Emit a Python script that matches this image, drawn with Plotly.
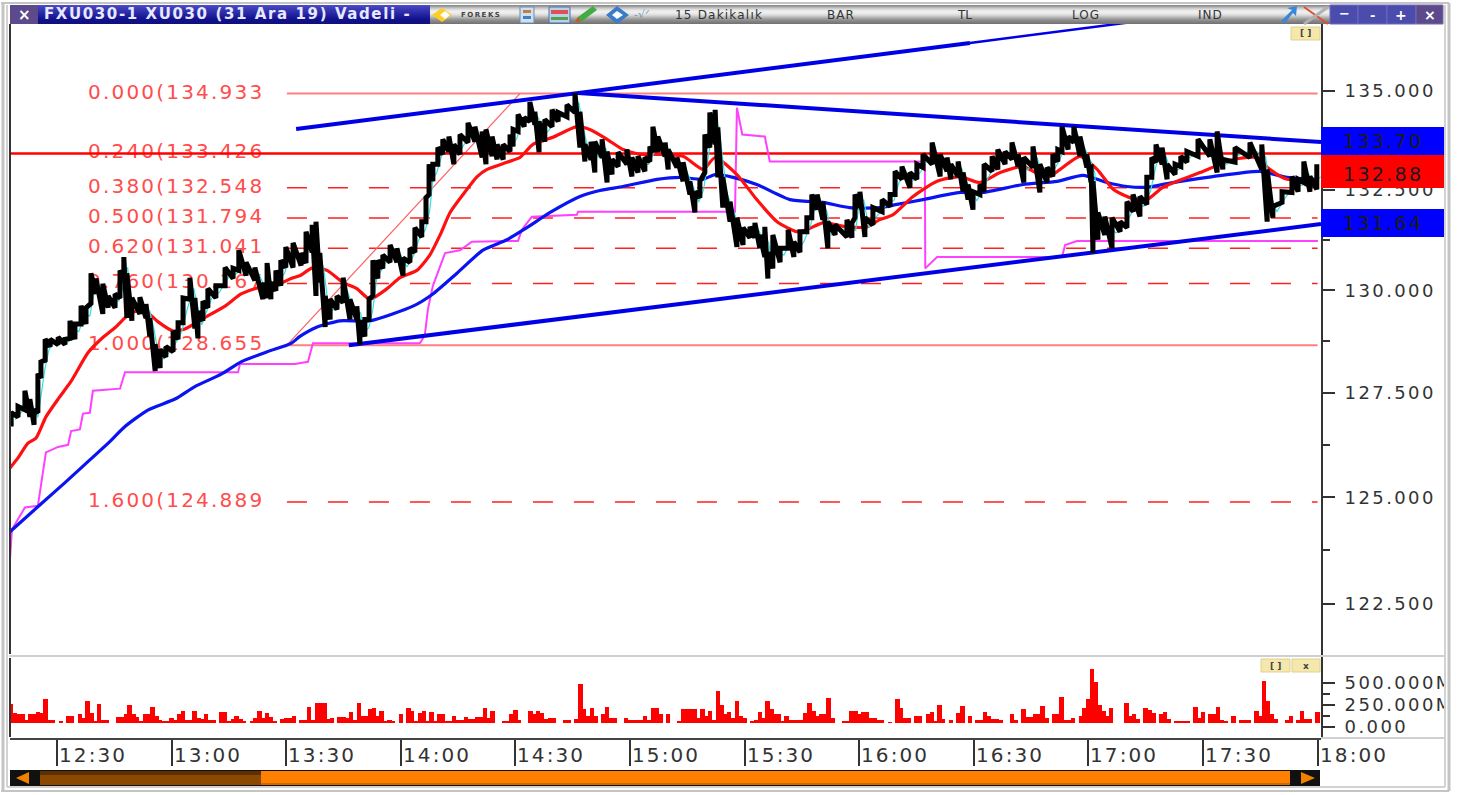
import plotly.graph_objects as go

W, H = 1466, 795

# ---- price bars: minute of day, high, low ----
bar_time = [738.0,739.8,741.6,742.9,744.0,745.0,745.8,746.9,748.2,750.3,752.1,753.4,754.7,756.3,757.6,758.9,760.2,762.0,763.4,765.2,766.5,767.5,768.3,769.6,771.7,773.3,774.3,775.7,777.0,778.5,780.4,781.7,783.0,784.8,786.1,786.9,788.2,789.5,791.6,794.0,796.1,797.6,799.5,801.8,803.9,805.0,806.0,807.3,808.6,809.9,811.8,813.9,815.2,816.8,817.8,818.8,820.2,821.5,823.3,824.9,826.7,828.5,829.3,830.6,831.7,832.7,834.0,835.3,837.2,839.0,840.6,842.4,843.7,845.5,846.6,847.4,848.4,849.7,851.0,852.6,853.9,855.5,857.6,859.4,861.3,862.3,863.9,865.2,866.8,868.6,869.4,870.7,872.3,873.8,875.1,876.2,877.7,879.6,881.2,883.5,885.6,886.9,888.2,889.8,890.8,892.7,894.0,895.3,896.9,899.2,900.5,902.1,903.9,905.2,906.0,907.3,909.2,910.0,912.3,913.9,915.7,917.0,918.3,919.6,920.9,922.3,923.0,924.3,926.2,928.0,929.6,931.4,932.7,934.0,935.3,936.1,937.4,939.3,941.4,942.9,944.5,946.3,947.6,949.0,950.5,951.8,953.7,956.8,958.1,958.9,960.2,961.5,963.6,966.0,968.1,969.4,971.2,973.3,975.1,976.7,979.1,981.2,983.0,984.0,985.9,987.2,988.5,989.8,991.6,992.7,994.8,996.3,998.2,1000.0,1001.6,1003.1,1005.5,1007.3,1009.2,1010.7,1012.0,1013.1,1014.7,1016.2,1017.8,1019.6,1020.7,1021.2,1022.5,1024.3,1026.2,1028.3,1030.1,1031.7,1033.5,1035.3,1036.6,1037.7,1039.3,1040.6,1042.7,1044.2,1045.8,1048.7,1051.8,1053.7,1055.2,1058.4,1062.3,1065.4,1066.8,1068.3,1070.7,1073.3,1074.9,1076.4,1078.0,1079.8]
bar_high = [127.02,127.17,127.55,127.35,127.09,127.96,128.25,128.8,128.8,128.85,128.8,129.25,129.17,129.62,129.57,130.42,130.29,130.16,129.86,129.91,130.49,130.82,130.42,129.81,129.83,129.66,129.32,128.68,128.55,128.62,129.0,129.2,129.81,130.31,129.81,129.48,129.73,130.04,130.11,130.56,130.54,130.99,130.69,130.56,130.19,130.67,130.19,130.49,130.74,131.07,131.17,130.92,131.45,131.62,131.7,130.92,129.86,129.78,129.86,130.31,129.78,129.61,129.25,129.28,129.78,130.74,130.74,130.87,131.12,131.04,130.79,131.04,131.55,131.7,132.3,133.14,133.14,133.56,133.77,133.84,133.64,133.89,134.19,134.09,133.97,134.02,133.84,133.64,133.64,133.89,134.02,134.4,134.32,134.72,134.47,134.22,134.27,134.52,134.45,134.65,134.95,134.47,133.64,133.71,133.71,133.77,133.46,133.26,133.44,133.51,133.31,133.34,133.31,133.59,134.09,133.84,133.69,133.51,133.31,133.19,132.71,132.45,132.71,133.89,134.45,134.52,134.07,132.81,132.2,131.8,131.55,131.57,131.67,131.37,131.57,130.94,131.37,131.04,131.5,131.2,131.45,131.8,132.38,132.38,132.2,131.7,131.62,131.75,131.67,132.38,132.45,131.8,132.05,132.25,132.38,132.96,133.08,132.93,133.14,133.39,133.69,133.39,133.31,133.14,133.21,132.93,132.63,132.45,132.63,133.14,133.34,133.51,133.46,133.69,133.39,133.31,133.59,133.14,133.06,133.39,133.51,134.09,133.84,134.09,133.84,133.39,133.14,132.71,131.93,131.83,131.8,131.7,132.2,132.38,132.33,132.81,133.31,133.64,133.56,133.14,133.14,133.34,133.46,133.77,133.77,133.97,133.26,133.56,133.69,133.64,133.01,132.08,132.45,132.83,132.76,133.21,132.83,133.14]
bar_low = [126.69,126.92,127.09,126.92,126.73,127.02,127.86,128.29,128.62,128.67,128.67,128.82,128.8,129.17,129.17,129.68,129.91,129.42,129.57,129.57,129.81,130.31,129.32,129.25,129.42,129.32,128.87,128.03,128.1,128.37,128.5,128.8,129.2,129.78,129.06,128.82,129.25,129.57,129.81,130.11,130.29,130.49,130.36,130.24,129.78,129.81,129.78,129.99,130.11,130.56,130.56,130.61,130.67,130.94,129.86,130.19,129.1,129.28,129.53,129.7,129.28,129.28,128.67,128.87,129.28,129.86,130.29,130.54,130.69,130.69,130.36,130.69,130.94,131.32,131.7,132.38,132.71,133.14,133.39,133.46,133.14,133.39,133.69,133.71,133.31,133.14,133.34,133.26,133.26,133.46,133.59,133.97,134.09,134.22,134.14,133.44,133.71,134.09,134.22,134.34,134.45,133.56,133.21,133.26,132.93,133.31,132.68,132.88,133.08,133.14,132.83,132.93,132.96,133.21,133.44,133.44,133.34,133.01,133.06,132.71,132.38,131.93,132.3,132.93,133.56,133.64,132.81,132.05,131.7,131.07,131.12,131.3,131.3,131.04,130.82,130.29,130.54,130.69,131.04,130.82,130.94,131.45,131.8,132.0,131.75,131.04,131.37,131.32,131.3,131.8,132.05,131.32,131.62,131.95,132.08,132.38,132.76,132.55,132.76,133.06,133.14,132.83,132.96,132.76,132.83,132.45,132.25,132.0,132.38,132.45,132.96,133.01,133.14,133.26,133.08,132.68,133.06,132.43,132.68,132.83,133.21,133.46,133.51,133.69,133.34,133.06,132.68,130.92,131.25,131.37,131.04,131.45,131.55,131.95,131.83,132.13,132.81,133.19,133.14,132.76,132.88,133.08,133.19,133.34,133.34,132.93,133.01,133.19,133.31,133.01,131.7,131.8,132.18,132.43,132.45,132.68,132.45,132.51]

# ---- moving averages and the stepped magenta indicator ----
ema_red_time = [737.7,739.8,742.4,744.5,747.1,750.3,753.7,758.1,761.5,765.4,768.1,770.4,773.3,776.4,780.4,783.5,787.7,794.0,798.2,802.6,807.1,811.3,813.6,817.0,820.7,824.9,828.5,831.9,836.4,839.8,844.2,847.6,850.3,852.9,856.3,860.0,862.6,867.8,871.2,874.6,879.8,886.1,889.5,894.0,898.2,902.6,907.1,913.9,919.1,922.3,928.0,933.2,938.5,943.7,946.3,950.5,956.8,962.0,965.4,968.8,974.1,980.4,986.4,991.6,996.9,1002.9,1009.2,1017.8,1022.3,1026.5,1030.9,1035.3,1039.5,1049.2,1057.9,1064.1,1067.5,1072.0,1079.8]
ema_red = [125.7,125.94,126.29,126.41,126.92,127.35,127.78,128.47,128.8,129.1,129.35,129.48,129.48,129.23,129.0,129.05,129.28,129.61,129.91,130.06,130.11,130.29,130.36,130.56,130.49,130.19,130.04,129.78,130.04,130.31,130.49,130.87,131.37,131.93,132.38,132.83,133.01,133.19,133.31,133.64,133.82,134.09,134.02,133.77,133.51,133.39,133.39,133.34,133.01,133.31,132.88,132.25,131.7,131.45,131.5,131.67,131.57,131.57,131.75,131.87,132.33,132.71,132.83,132.68,132.93,133.08,132.81,133.34,133.01,132.51,132.3,132.25,132.56,132.93,133.26,133.31,133.01,132.76,132.76]
ema_blue_time = [737.7,745.5,752.1,758.6,763.4,767.8,773.9,780.9,786.1,793.0,798.2,805.2,811.3,813.6,818.1,824.1,831.9,843.2,848.4,854.7,861.5,867.8,873.0,879.1,886.9,892.1,898.2,907.1,913.1,919.1,922.3,927.0,933.2,941.9,950.5,957.5,965.4,969.9,976.7,986.4,992.4,1002.9,1011.8,1018.6,1024.9,1030.1,1035.3,1044.0,1052.6,1064.9,1072.0,1079.8]
ema_blue = [124.19,124.82,125.35,125.89,126.29,126.69,127.09,127.35,127.65,127.95,128.25,128.5,128.7,128.87,129.1,129.25,129.25,129.61,129.91,130.42,130.99,131.25,131.55,131.93,132.33,132.48,132.58,132.76,132.81,132.76,132.88,132.81,132.63,132.25,132.18,132.05,132.05,132.13,132.25,132.43,132.43,132.63,132.71,132.86,132.68,132.58,132.56,132.71,132.83,132.96,132.81,132.76]
step_time = [737.7,738.2,741.6,745.0,747.1,750.3,752.9,753.7,756.0,756.8,758.6,759.4,766.5,767.8,797.4,797.9,812.3,815.7,817.0,845.0,846.3,847.1,848.4,850.3,851.6,855.5,858.6,870.7,871.7,874.3,886.1,886.4,927.5,928.0,929.4,935.3,936.6,977.2,977.3,980.4,1013.1,1013.9,1017.0,1080.1]
step_value = [123.54,124.24,124.76,124.8,126.07,126.2,126.25,126.58,126.62,127.0,127.02,127.55,127.6,128.0,128.0,128.2,128.2,128.25,128.7,128.7,128.9,129.53,130.11,130.61,130.92,130.99,131.2,131.22,131.5,131.82,131.87,131.95,131.95,134.57,133.89,133.84,133.21,133.21,130.54,130.82,130.82,131.12,131.22,131.22]

# ---- Fibonacci levels and trend lines ----
fib_ratio = ["0.000","0.240","0.380","0.500","0.620","0.760","1.000","1.600"]
fib_price = [134.933,133.426,132.548,131.794,131.041,130.167,128.655,124.889]
fib_start, fib_end = 810.2, 1080.0
fib_label_time = 781.2
fib_diag_time, fib_diag_price = [810.2, 871.2], [128.655, 134.933]
support_time, support_price = [826.4, 1080.9], [128.655, 131.64]
resist_time, resist_price = [886.4, 1080.9], [134.95, 133.70]
upper_time, upper_price = [812.6, 886.4, 989.0], [134.03, 134.95, 136.23]
upper_ext_time, upper_ext_price = [989.0, 1033.5], [136.23, 136.8]
last_line_price = 133.41

# ---- volume, one value per minute from 738, millions ----
vol_start = 738
volume = [257,161,142,153,84,142,142,169,161,314,77,77,0,61,0,123,123,0,153,103,295,161,65,257,77,77,0,0,115,115,153,245,142,115,65,142,153,230,123,84,57,57,103,84,142,180,77,77,180,103,92,153,84,77,0,169,169,65,92,130,92,65,0,61,103,180,103,161,115,65,0,92,103,103,130,0,77,77,230,77,276,276,276,92,103,0,115,115,103,169,77,268,123,123,207,218,123,180,65,84,65,0,142,0,218,180,65,161,180,65,169,65,142,142,65,65,123,84,84,115,92,92,115,115,218,103,180,0,0,57,57,142,192,84,0,0,180,142,180,161,92,103,103,0,0,84,84,0,92,486,199,123,218,123,0,142,230,103,103,0,0,103,77,77,77,77,123,77,218,218,142,0,153,0,0,65,199,199,199,199,103,199,123,180,84,410,245,142,169,103,295,123,103,0,65,84,169,103,295,199,142,142,65,130,77,84,84,84,161,268,180,130,142,142,333,103,0,0,65,65,180,180,142,169,169,103,103,77,77,0,54,0,314,218,103,103,0,123,123,0,142,169,65,245,92,0,84,0,161,238,0,123,0,77,77,169,123,92,92,84,0,0,142,84,0,199,115,115,142,142,238,103,0,142,142,345,77,77,103,0,123,218,314,659,506,245,180,123,218,0,0,0,268,123,142,92,0,218,192,161,0,142,169,92,0,65,65,65,65,0,230,103,169,0,142,142,230,84,65,0,130,0,84,84,84,0,180,123,525,295,142,92,0,0,77,130,0,77,180,92,92,0,169]
vol_floor = 46

# ---- tick labels ----
price_ticks = [135.0, 132.5, 130.0, 127.5, 125.0, 122.5, 133.41]
price_tick_text = ["135.000","132.500","130.000","127.500","125.000","122.500","133.41"]
price_minor = [133.75, 131.25, 128.75, 126.25, 123.75]
vol_ticks = [500, 250, 0]
vol_tick_text = ["500.000M","250.000M","0.000"]
vol_minor = [375, 125]
time_ticks = [750,780,810,840,870,900,930,960,990,1020,1050,1080]
time_tick_text = ["12:30","13:00","13:30","14:00","14:30","15:00","15:30","16:00","16:30","17:00","17:30","18:00"]

tags = [("133.70","#0000ff",127,155,141), ("132.88","#ff0000",155,188,174), ("131.64","#0000ff",209,237,223)]
title_text = "FXU030-1 XU030 (31 Ara 19) Vadeli -"

FONT = "DejaVu Sans"
INK = "#333333"

def spaced(text, px):
    return f'<span style="letter-spacing:{px}px">{text}</span>'

# pixel helpers for the window chrome only
def fx(x): return x / W
def fy(y): return 1 - y / H
shapes, annos = [], []

def rect(x0, y0, x1, y1, fill, line=None, lw=1):
    shapes.append(dict(type="rect", xref="paper", yref="paper", x0=fx(x0), x1=fx(x1), y0=fy(y0), y1=fy(y1),
                       fillcolor=fill, line=dict(color=line or fill, width=lw if line else 0), layer="above"))

def seg(x0, y0, x1, y1, color, lw=1):
    shapes.append(dict(type="line", xref="paper", yref="paper", x0=fx(x0), x1=fx(x1), y0=fy(y0), y1=fy(y1),
                       line=dict(color=color, width=lw), layer="above"))

def poly(points, fill):
    d = "M" + " L".join(f"{fx(x):.5f},{fy(y):.5f}" for x, y in points) + " Z"
    shapes.append(dict(type="path", xref="paper", yref="paper", path=d, fillcolor=fill, line=dict(width=0), layer="above"))

def label(x, y, text, size=13, color=INK, anchor="center", bold=False):
    annos.append(dict(xref="paper", yref="paper", x=fx(x), y=fy(y), text=f"<b>{text}</b>" if bold else text,
                      showarrow=False, xanchor=anchor, yanchor="middle", font=dict(family=FONT, size=size, color=color)))

# outer frame
rect(1446, 640, 1448, 740, "#ffffff")
seg(1, 3, 1449, 3, "#c4c4c4", 2)
seg(3, 3, 3, 791, "#c4c4c4", 3)
seg(1449, 3, 1449, 791, "#c4c4c4", 3)
seg(1, 791, 1449, 791, "#c4c4c4", 2)
seg(1445, 5, 1445, 787, "#d2d2d2", 2)
seg(7, 787, 1445, 787, "#d2d2d2", 2)
seg(7, 5, 7, 787, "#d2d2d2", 2)

# title bar
gray_rows = ["#8c8c8c","#a0a0a0","#b8b8b8","#cccccc","#dddddd","#e8e8e8","#eeeeee","#eeeeee","#e8e8e8","#e0e0e0","#d4d4d4","#c4c4c4","#b4b4b4","#a4a4a4","#969696","#8c8c8c","#848484","#7c7c7c","#747474"]
blue_rows = ["#4c4cc4","#4646c0","#4040bc","#3c3cb8","#3838b4","#3434b0","#3030ac","#2c2ca8","#2828a4","#2424a0","#20209c","#1c1c98","#181894","#141490","#12128c","#101088","#101084","#101080","#10107c"]
for i, (g, b) in enumerate(zip(gray_rows, blue_rows)):
    y = 5 + i
    rect(430, y, 1330, y + 1, g)
    rect(38, y, 430, y + 1, b)
rect(10, 5, 38, 24, "#5c4a8c")
for x0, x1 in [(1330, 1358), (1358, 1387), (1387, 1416)]:
    rect(x0, 5, x1, 24, "#4c4cac", "#6a6ac0", 1)
rect(1416, 5, 1443, 24, "#5c4a8c", "#7a6aa8", 1)
label(24, 15, "×", 15, "#ffffff", bold=True)
label(42, 14.5, spaced(title_text, 1.6), 15, "#e8e8ff", "left", bold=True)
label(1344, 14, "−", 13, "#ffffff", bold=True)
label(1372, 16, "-", 13, "#ffffff", bold=True)
label(1401, 15, "+", 14, "#ffffff", bold=True)
label(1430, 15, "×", 14, "#ffffff", bold=True)
label(719, 15, spaced("15 Dakikalık", 1.2), 12, "#333333")
label(841, 15, spaced("BAR", 1), 12, "#333333")
label(964, 15, "TL", 12, "#333333")
label(1086, 15, spaced("LOG", 1), 12, "#333333")
label(1210, 15, spaced("IND", 1), 12, "#333333")

# toolbar icons
poly([(432, 15), (442, 8), (452, 15), (442, 22)], "#ffcc22")
poly([(440, 15), (445, 11), (450, 15), (445, 19)], "#ffffff")
label(481, 15, spaced("FOREKS", 1.5), 7, "#444444", bold=True)
rect(520, 7, 534, 23, "#cfe0f0", "#6c8cb0", 1)
rect(523, 10, 531, 13, "#c08040")
rect(523, 16, 531, 19, "#4080c0")
rect(549, 7, 570, 23, "#b8d0e8", "#5070a0", 1)
rect(551, 10, 568, 14, "#e05050")
rect(551, 17, 568, 20, "#50a050")
poly([(575, 22), (578, 17), (593, 6), (597, 10), (581, 22)], "#44aa44")
poly([(575, 22), (578, 17), (581, 22)], "#cc5533")
poly([(606, 15), (617, 6), (629, 15), (617, 24)], "#3a7cc8")
poly([(612, 15), (617, 11), (623, 15), (617, 19)], "#ffffff")
label(642, 15, "-√ᐟ", 11, "#7f97b8")
poly([(1281, 21), (1292, 10), (1287, 8), (1297, 6), (1296, 16), (1293, 13), (1285, 23)], "#3a86d8")
seg(1304, 7, 1328, 24, "#e05030", 2)
seg(1328, 7, 1304, 24, "#b0b0b0", 3)

# price-tag boxes
for text, color, y0, y1, yc in tags:
    rect(1321, y0, 1444, y1, color)
    label(1383, yc, spaced(text, 2.3), 19, "#1a1a1a")

# pane separators and left axis
seg(9, 656, 1445, 656, "#d0d0d0", 2)
seg(10, 739, 1321, 739, "#444444", 2)
seg(1321, 738, 1445, 738, "#d0d0d0", 2)
seg(10, 24, 10, 654, "#333333", 2)
seg(10, 658, 10, 737, "#333333", 2)

# badges
for x0, x1, y0, y1, txt in [(1291, 1320, 27, 40, "[ ]"), (1261, 1290, 659, 672, "[ ]"), (1292, 1320, 659, 672, "x")]:
    rect(x0, y0, x1, y1, "#f5e8ac", "#e0d090", 1)
    label((x0 + x1) / 2, (y0 + y1) / 2, txt, 9, "#444444", bold=True)

# scrollbar
rect(10, 770, 1320, 786, "#111111")
rect(40, 771, 261, 785, "#8a4800")
rect(40, 771, 261, 775, "#5c3000")
rect(261, 771, 1290, 785, "#ff8000")
rect(261, 783, 1290, 785, "#d06800")
poly([(16, 778), (29, 772), (29, 784)], "#f08000")
poly([(1315, 778), (1301, 772), (1301, 784)], "#f08000")

# time labels sit to the right of their ticks
for t, s in zip(time_ticks, time_tick_text):
    annos.append(dict(xref="x", yref="paper", x=t, y=fy(755), text=spaced(s, 2.1), showarrow=False, xanchor="left",
                      xshift=0, yanchor="middle", font=dict(family=FONT, size=20, color=INK)))

fig = go.Figure()

# Fibonacci labels go first so that the price bars cover them
fig.add_trace(go.Scatter(x=[fib_label_time] * len(fib_price), y=fib_price, mode="text",
                         text=[spaced(f"{r}({p:.3f}", 2.2) for r, p in zip(fib_ratio, fib_price)],
                         textposition="middle center", textfont=dict(family=FONT, size=20, color="#ff4c4c"),
                         showlegend=False, hoverinfo="skip"))
for r, p in zip(fib_ratio, fib_price):
    solid = r in ("0.000", "1.000")
    if r == "0.240":
        continue
    fig.add_trace(go.Scatter(x=[fib_start, fib_end], y=[p, p], mode="lines", showlegend=False, hoverinfo="skip",
                             line=dict(color="#ff8080" if solid else "#ff2020", width=2 if solid else 1.5,
                                       dash="solid" if solid else "20px,21px")))
fig.add_trace(go.Scatter(x=fib_diag_time, y=fib_diag_price, mode="lines", showlegend=False, hoverinfo="skip",
                         line=dict(color="#ff6060", width=1.2)))
fig.add_trace(go.Scatter(x=[737.7, 1080.9], y=[last_line_price, last_line_price], mode="lines", showlegend=False,
                         hoverinfo="skip", line=dict(color="#ff0000", width=2.5)))
fig.add_trace(go.Scatter(x=step_time, y=step_value, mode="lines", name="step", showlegend=False,
                         line=dict(color="#ff40ff", width=2)))
fig.add_trace(go.Scatter(x=ema_blue_time, y=ema_blue, mode="lines", name="slow", showlegend=False,
                         line=dict(color="#0a14f0", width=3.2, shape="spline", smoothing=0.6)))
fig.add_trace(go.Scatter(x=ema_red_time, y=ema_red, mode="lines", name="fast", showlegend=False,
                         line=dict(color="#ff1010", width=3.2, shape="spline", smoothing=0.6)))
for tx, ty, lw in [(support_time, support_price, 4), (resist_time, resist_price, 4), (upper_time, upper_price, 4), (upper_ext_time, upper_ext_price, 2.5)]:
    fig.add_trace(go.Scatter(x=tx, y=ty, mode="lines", showlegend=False, hoverinfo="skip",
                             line=dict(color="#0000e6", width=lw)))

# thin cyan trace peeks out from behind steep moves
fig.add_trace(go.Scatter(x=[t + 1.0 for t in bar_time], y=[(a + b) / 2 for a, b in zip(bar_high, bar_low)],
                         mode="lines", showlegend=False, hoverinfo="skip", line=dict(color="#30e0e0", width=1.2)))
zig_x, zig_y = [], []
for t, hi, lo in zip(bar_time, bar_high, bar_low):
    zig_x += [t, t]
    zig_y += [lo, hi]
fig.add_trace(go.Scatter(x=zig_x, y=zig_y, mode="lines", name="price", showlegend=False,
                         line=dict(color="#000000", width=5)))

# volume pane
fig.add_trace(go.Bar(x=[vol_start + i for i in range(len(volume))], y=[max(v - vol_floor, 0) for v in volume],
                     base=vol_floor, width=1.15, yaxis="y2", marker=dict(color="#ff0000", line=dict(width=0)),
                     showlegend=False, hoverinfo="skip"))

tick_font = dict(family=FONT, size=18, color=INK)
fig.update_layout(
    width=W, height=H, autosize=False, margin=dict(l=0, r=0, t=0, b=0),
    paper_bgcolor="#ffffff", plot_bgcolor="#ffffff", showlegend=False, bargap=0,
    shapes=shapes, annotations=annos,
    xaxis=dict(domain=[fx(10), fx(1321)], range=[737.7, 1080.9], anchor="y2", showgrid=False, zeroline=False,
               showline=False, tickmode="array", tickvals=time_ticks, ticktext=[""] * len(time_ticks),
               ticks="outside", ticklen=28, tickwidth=2, tickcolor=INK),
    yaxis=dict(type="log", domain=[fy(655), fy(24)], range=[2.08395, 2.13584], side="right", anchor="x",
               showgrid=False, zeroline=False, showline=True, linecolor=INK, linewidth=2,
               tickmode="array", tickvals=price_ticks, ticktext=[spaced(s, 2.4) for s in price_tick_text],
               ticks="outside", ticklen=12, tickwidth=2, tickcolor=INK, tickfont=tick_font, ticklabelstandoff=6,
               minor=dict(tickmode="array", tickvals=price_minor, ticks="outside", ticklen=7, tickwidth=1.5, tickcolor=INK)),
    yaxis2=dict(domain=[fy(737), fy(657)], range=[-114, 795], side="right", anchor="x",
                showgrid=False, zeroline=False, showline=True, linecolor=INK, linewidth=2,
                tickmode="array", tickvals=vol_ticks, ticktext=[spaced(s, 2.4) for s in vol_tick_text],
                ticks="outside", ticklen=12, tickwidth=2, tickcolor=INK, tickfont=tick_font, ticklabelstandoff=6,
                minor=dict(tickmode="array", tickvals=vol_minor, ticks="outside", ticklen=7, tickwidth=1.5, tickcolor=INK)),
)

fig.write_html("out.html", config={"displayModeBar": False},
               post_script="document.body.style.margin='0';document.body.style.overflow='hidden';")
